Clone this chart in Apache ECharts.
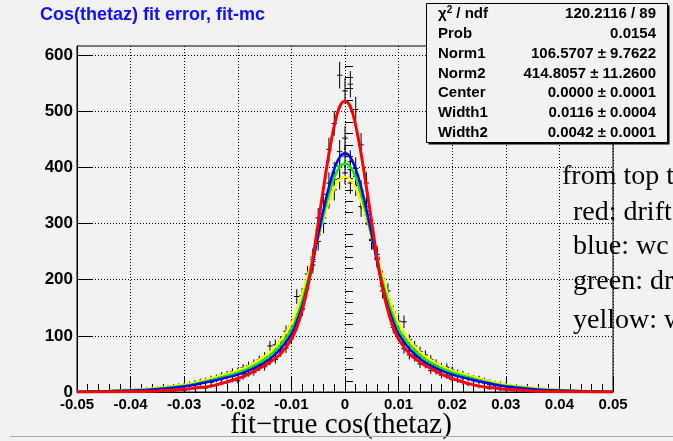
<!DOCTYPE html>
<html><head><meta charset="utf-8">
<script src="https://cdn.jsdelivr.net/npm/echarts@6/dist/echarts.min.js"></script>
<style>html,body{margin:0;padding:0;background:#f2f2f2}#c{width:673px;height:441px}</style>
</head><body><div id="c"></div><script>
// ---- data ----
const xTicks = [-0.05,-0.04,-0.03,-0.02,-0.01,0,0.01,0.02,0.03,0.04,0.05];
const yTicks = [0,100,200,300,400,500,600];
const yMinorTicks = [20,40,60,80,120,140,160,180,220,240,260,280,320,340,360,380,420,440,460,480,520,540,560,580];
const binLow = -0.05, binWidth = 0.001; // bins centred on multiples of 0.001, index k=-50..50

const countsRed = [0,0,1,0,1,0,1,0,1,1,
 0,1,2,1,2,1,2,3,2,4,
 3,5,6,8,7,11,12,16,18,22,
 20,27,33,35,44,45,55,58,71,78,
 95,126,148,197,240,310,352,432,478,564,
 536,
 548,503,440,372,292,236,188,160,115,100,
 77,66,62,50,49,38,37,30,29,22,
 21,17,14,13,10,9,6,7,4,4,
 3,2,3,1,2,1,1,0,1,0,
 1,0,0,1,0,0,1,0,0,0];
const countsBlue = [0,1,0,1,1,2,1,2,2,3,
 2,4,3,4,6,5,7,6,9,8,
 11,12,14,15,18,17,22,24,29,28,
 34,33,41,45,46,55,58,70,76,92,
 100,131,147,195,226,288,318,372,390,428,
 452,
 410,398,358,330,272,238,180,157,120,108,
 88,74,66,62,52,44,45,37,36,30,
 29,25,24,20,18,16,13,12,11,10,
 8,9,6,6,5,4,4,3,3,2,
 3,1,2,1,1,1,0,1,0,0];
const countsGreen = [1,0,1,1,2,1,2,2,3,3,
 3,4,4,5,5,6,7,8,8,10,
 11,13,15,16,19,21,23,27,28,33,
 34,39,43,47,50,58,63,75,82,98,
 110,138,160,200,232,280,310,350,378,402,
 420,
 396,384,345,322,270,240,192,166,130,114,
 95,80,73,66,57,53,47,41,39,36,
 31,28,26,22,21,18,16,14,12,11,
 10,9,7,7,6,5,4,4,3,3,
 3,2,2,2,1,1,1,0,1,0];
const countsYellow = [1,1,1,2,2,2,2,3,3,4,
 4,4,5,6,6,7,8,9,10,12,
 13,15,17,19,21,24,26,30,32,36,
 37,43,47,51,57,63,82,84,90,108,
 118,170,172,210,236,268,300,345,360,380,
 390,
 372,368,330,315,270,245,202,180,142,126,
 125,93,82,72,66,58,51,45,44,39,
 34,32,28,25,24,21,18,16,15,13,
 11,10,9,8,7,6,5,4,4,3,
 3,3,2,2,2,1,1,1,1,1];

const curveX = [-0.050,-0.045,-0.040,-0.035,-0.030,-0.028,-0.025,-0.022,-0.020,-0.018,-0.016,-0.014,-0.012,-0.010,-0.009,-0.008,-0.007,-0.006,-0.005,-0.004,-0.003,-0.002,-0.001,0,
 0.001,0.002,0.003,0.004,0.005,0.006,0.007,0.008,0.009,0.010,0.012,0.014,0.016,0.018,0.020,0.022,0.025,0.028,0.030,0.035,0.040,0.045,0.050];
const curveRed = [0.1,0.3,0.8,2,5,7,10.5,18,24,32,42,53,68,94,115,145,185,237,301,364,424,474,508,518,
 508,474,424,364,301,237,185,145,115,94,68,53,42,32,24,18,10.5,7,5,2,0.8,0.3,0.1];
const curveBlue = [0.5,1.2,2.5,5,10,13,19,26,31,38,47,59,77,103,125,152,188,232,280,325,365,397,418,425,
 418,397,365,325,280,232,188,152,125,103,77,59,47,38,31,26,19,13,10,5,2.5,1.2,0.5];
const curveGreen = [0.6,1.4,3,6,11,14.5,21,29,35,42,52,65,84,111,134,162,196,236,276,316,352,382,401,407,
 401,382,352,316,276,236,196,162,134,111,84,65,52,42,35,29,21,14.5,11,6,3,1.4,0.6];
const curveYellow = [0.8,1.7,3.5,7,13,16.5,24,32,38,46,57,71,92,122,146,174,206,240,275,309,339,363,378,383,
 378,363,339,309,275,240,206,174,146,122,92,71,57,46,38,32,24,16.5,13,7,3.5,1.7,0.8];

const statRows = [
  ['chi', '120.2116 / 89'],
  ['Prob', '0.0154'],
  ['Norm1', '106.5707 \u00b1 9.7622'],
  ['Norm2', '414.8057 \u00b1 11.2600'],
  ['Center', '0.0000 \u00b1 0.0001'],
  ['Width1', '0.0116 \u00b1 0.0004'],
  ['Width2', '0.0042 \u00b1 0.0001']
];
const legendLines = ['from top to', 'red: drift', 'blue: wc', 'green: dr', 'yellow: w'];

// ---- build ----
function toPoints(counts){ return counts.map((c,i)=>[binLow + i*binWidth, c]); }
function toCurve(vals){ return curveX.map((x,i)=>[x, vals[i]]); }

function errItem(params, api){
  const x = api.value(0), y = api.value(1);
  const e = Math.sqrt(y);
  const pl = api.coord([x - binWidth/2, y]);
  const pr = api.coord([x + binWidth/2, y]);
  const pt = api.coord([x, y + e]);
  const pb = api.coord([x, Math.max(0, y - e)]);
  const st = {stroke:'#000', lineWidth:1};
  return {type:'group', children:[
    {type:'line', shape:{x1:pl[0],y1:pl[1],x2:pr[0],y2:pr[1]}, style:st},
    {type:'line', shape:{x1:pt[0],y1:pt[1],x2:pb[0],y2:pb[1]}, style:st}
  ]};
}

const G = {left:77, top:46, width:536, height:346};
const YMAX = 616;
const sans = 'Liberation Sans, Arial, sans-serif';
const serif = 'Liberation Serif, Times New Roman, serif';

const graphics = [];
// title
graphics.push({type:'text', left:40, top:6, style:{text:'Cos(thetaz) fit error, fit-mc', font:'bold 18px '+sans, fill:'#1010ff'}, z:50});
// x axis title
graphics.push({type:'text', x:341, y:425, style:{text:'fit\u2212true cos(thetaz)', font:'29px '+serif, fill:'#000', align:'center', verticalAlign:'middle'}, z:50});
// bottom window edge
graphics.push({type:'line', shape:{x1:10,y1:436.5,x2:673,y2:436.5}, style:{stroke:'#a8a8a8', lineWidth:1}, z:50});
// legend lines
const legY = [177, 213, 247, 282, 321];
legendLines.forEach((t,i)=>{
  graphics.push({type:'text', x: i===0 ? 562 : 573, y: legY[i], style:{text:t, font:'28px '+serif, fill:'#000', verticalAlign:'middle'}, z:50});
});
// stats box
graphics.push({type:'rect', shape:{x:428.5,y:5.5,width:241,height:139}, style:{fill:'#000'}, z:60});
graphics.push({type:'rect', shape:{x:426.5,y:3.5,width:241,height:139}, style:{fill:'#f2f2f2', stroke:'#000', lineWidth:1}, z:61});
statRows.forEach((r,i)=>{
  const y = 14 + 19.8*i;
  if (r[0] === 'chi') {
    graphics.push({type:'text', x:438, y:y, style:{rich:{a:{font:'bold 15px '+sans}, s:{font:'bold 10px '+sans, verticalAlign:'top', padding:[0,0,8,0]}}, text:'{a|\u03c7}{s|2}{a| / ndf}', fill:'#000', verticalAlign:'middle'}, z:62});
  } else {
    graphics.push({type:'text', x:438, y:y, style:{text:r[0], font:'bold 15px '+sans, fill:'#000', verticalAlign:'middle'}, z:62});
  }
  graphics.push({type:'text', x:656, y:y, style:{text:r[1], font:'bold 15px '+sans, fill:'#000', align:'right', verticalAlign:'middle'}, z:62});
});

const dotted = {color:'#000', type:[1,2], width:1};
const option = {
  backgroundColor:'#f2f2f2',
  animation:false,
  grid:[
    Object.assign({show:true, borderColor:'#000', borderWidth:1, backgroundColor:'transparent'}, G),
    Object.assign({show:false}, G)
  ],
  xAxis:[
    {type:'value', gridIndex:0, min:-0.05, max:0.05, interval:0.01,
     axisLine:{show:true, onZero:false, lineStyle:{color:'#000', width:1}},
     axisTick:{show:true, inside:true, length:15, lineStyle:{color:'#000'}},
     minorTick:{show:true, splitNumber:5, length:8, lineStyle:{color:'#000'}},
     splitLine:{show:true, lineStyle:dotted},
     axisLabel:{margin:5, color:'#000', fontSize:15, fontWeight:'bold', fontFamily:sans,
       formatter:(v)=> Math.abs(v)<1e-9 ? '0' : v.toFixed(2)}},
    {type:'value', gridIndex:1, min:-0.05, max:0.05, show:false}
  ],
  yAxis:[
    {type:'value', gridIndex:0, min:0, max:YMAX, interval:100,
     axisLine:{show:true, onZero:false, lineStyle:{color:'#000', width:1}},
     axisTick:{show:true, inside:true, length:16, customValues:yTicks, lineStyle:{color:'#000'}},
     splitLine:{show:true, lineStyle:dotted},
     axisLabel:{margin:4, color:'#000', fontSize:17, fontWeight:'bold', fontFamily:sans, customValues:yTicks}},
    {type:'value', gridIndex:1, min:0, max:YMAX, position:'left',
     axisLine:{show:false}, axisLabel:{show:false}, splitLine:{show:false},
     axisTick:{show:true, inside:true, length:8, customValues:yMinorTicks, lineStyle:{color:'#000'}}}
  ],
  series:[
    {type:'custom', name:'red data', renderItem:errItem, data:toPoints(countsRed), clip:true, z:2},
    {type:'custom', name:'blue data', renderItem:errItem, data:toPoints(countsBlue), clip:true, z:2},
    {type:'custom', name:'green data', renderItem:errItem, data:toPoints(countsGreen), clip:true, z:2},
    {type:'custom', name:'yellow data', renderItem:errItem, data:toPoints(countsYellow), clip:true, z:2},
    {type:'line', name:'yellow', data:toCurve(curveYellow), smooth:0.4, showSymbol:false, lineStyle:{color:'#ffff00', width:2.5}, z:3},
    {type:'line', name:'green', data:toCurve(curveGreen), smooth:0.4, showSymbol:false, lineStyle:{color:'#00ee00', width:2.5}, z:4},
    {type:'line', name:'blue', data:toCurve(curveBlue), smooth:0.4, showSymbol:false, lineStyle:{color:'#0000ff', width:2.5}, z:5},
    {type:'line', name:'red', data:toCurve(curveRed), smooth:0.4, showSymbol:false, lineStyle:{color:'#ff0000', width:3}, z:6}
  ],
  graphic:graphics
};
const chart = echarts.init(document.getElementById('c'));
chart.setOption(option);
</script></body></html>
